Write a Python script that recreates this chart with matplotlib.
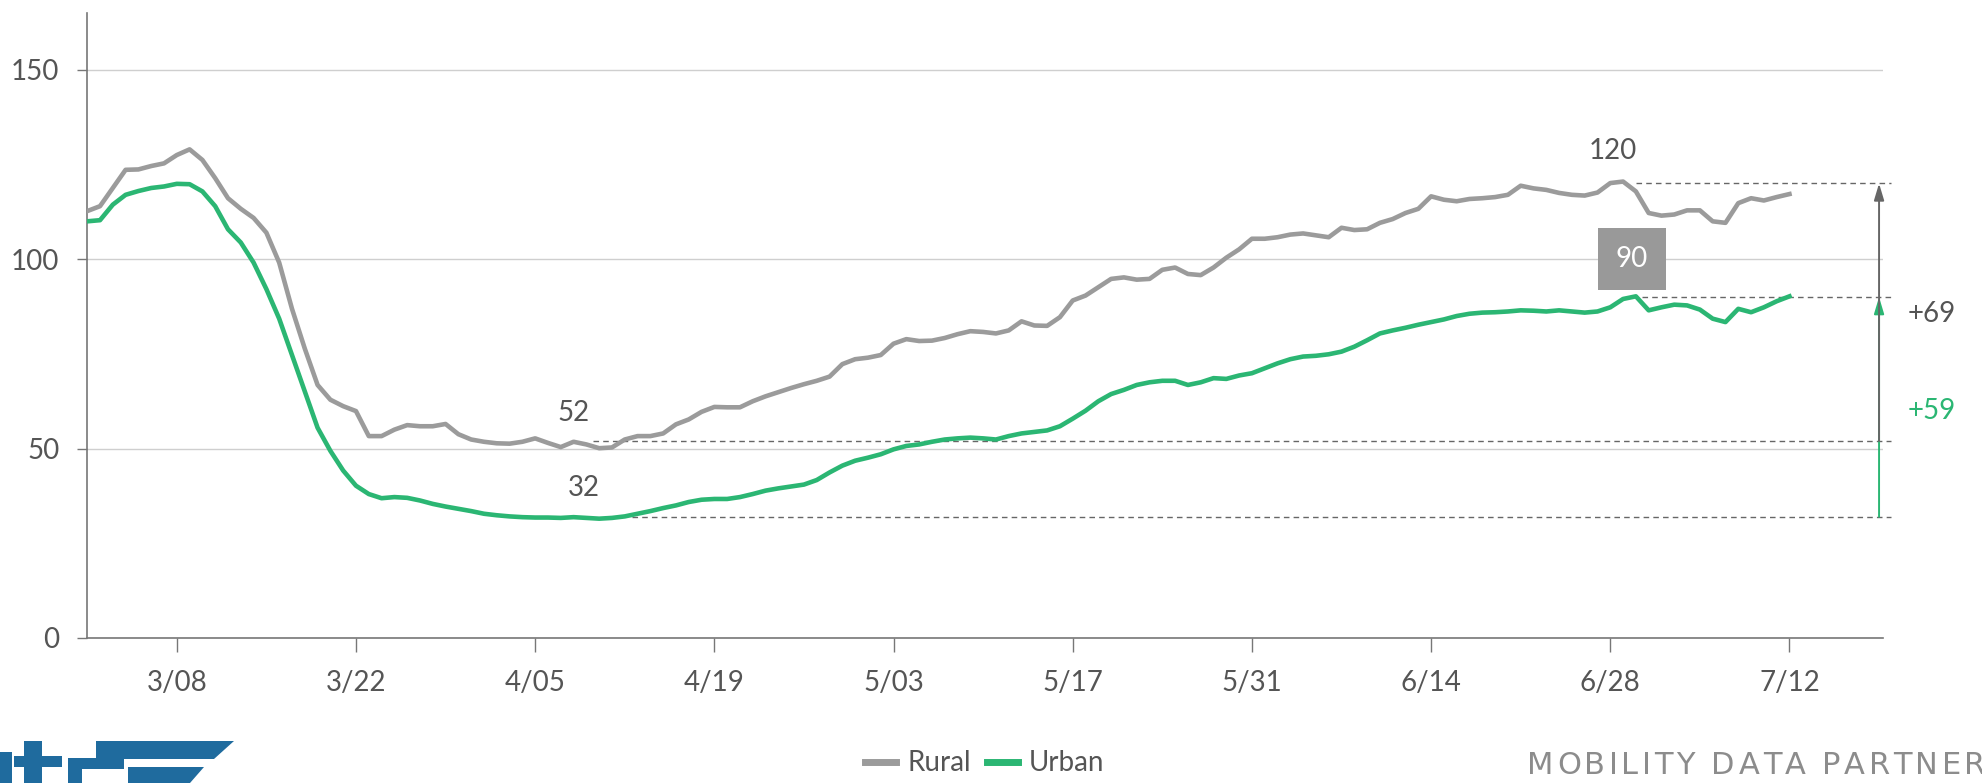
import matplotlib
matplotlib.use("Agg")
import matplotlib.pyplot as plt
import matplotlib.dates as mdates
from matplotlib.lines import Line2D
from matplotlib.patches import Polygon
import pandas as pd

plt.rcParams['font.family'] = ['Lato', 'DejaVu Sans']

# ---------------- data ----------------
start_date = "2020-03-01"
end_date = "2020-07-12"

rural = [112.7, 114.0, 118.8, 123.6, 123.7, 124.6, 125.3, 127.5, 129.0, 126.2,
         121.4, 116.1, 113.3, 110.9, 107.0, 99.1, 86.9, 76.4, 66.8, 62.9,
         61.2, 59.9, 53.3, 53.3, 55.0, 56.2, 55.9, 55.9, 56.5, 53.8,
         52.4, 51.8, 51.4, 51.3, 51.8, 52.7, 51.5, 50.4, 51.8, 51.1,
         50.1, 50.3, 52.4, 53.3, 53.3, 54.0, 56.4, 57.7, 59.7, 61.0,
         60.9, 60.9, 62.5, 63.8, 64.9, 66.0, 67.0, 67.9, 69.0, 72.3,
         73.6, 74.0, 74.7, 77.7, 78.9, 78.4, 78.5, 79.2, 80.2, 81.0,
         80.8, 80.4, 81.2, 83.6, 82.5, 82.4, 84.7, 89.1, 90.4, 92.6,
         94.8, 95.2, 94.6, 94.8, 97.2, 97.8, 96.1, 95.8, 97.8, 100.4,
         102.6, 105.4, 105.4, 105.8, 106.5, 106.8, 106.3, 105.8, 108.3, 107.7,
         107.9, 109.6, 110.6, 112.2, 113.3, 116.6, 115.7, 115.3, 115.9, 116.1,
         116.4, 117.0, 119.4, 118.7, 118.3, 117.5, 117.0, 116.8, 117.6, 120.1,
         120.5, 117.9, 112.2, 111.5, 111.8, 112.9, 112.9, 110.0, 109.6, 114.8,
         116.1, 115.5, 116.4, 117.2]

urban = [110.0, 110.3, 114.4, 117.0, 118.0, 118.8, 119.2, 119.9, 119.8, 117.9,
         114.0, 107.9, 104.4, 99.1, 92.1, 84.3, 74.7, 65.1, 55.5, 49.4,
         44.2, 40.2, 38.0, 36.9, 37.2, 37.0, 36.3, 35.4, 34.7, 34.1,
         33.5, 32.8, 32.4, 32.1, 31.9, 31.8, 31.8, 31.7, 31.9, 31.7,
         31.5, 31.7, 32.1, 32.8, 33.5, 34.3, 35.0, 35.9, 36.5, 36.7,
         36.7, 37.2, 38.0, 38.9, 39.5, 40.0, 40.5, 41.7, 43.7, 45.5,
         46.8, 47.6, 48.5, 49.8, 50.7, 51.1, 51.8, 52.4, 52.7, 52.9,
         52.7, 52.4, 53.3, 54.0, 54.4, 54.8, 55.9, 57.9, 60.0, 62.5,
         64.4, 65.5, 66.8, 67.5, 67.9, 67.9, 66.8, 67.5, 68.6, 68.4,
         69.3, 69.9, 71.2, 72.5, 73.6, 74.3, 74.5, 74.9, 75.6, 76.9,
         78.6, 80.4, 81.2, 81.9, 82.7, 83.4, 84.1, 85.0, 85.6, 85.9,
         86.0, 86.2, 86.5, 86.4, 86.2, 86.5, 86.2, 85.9, 86.2, 87.3,
         89.5, 90.2, 86.5, 87.3, 88.0, 87.8, 86.7, 84.3, 83.4, 86.9,
         86.0, 87.3, 88.9, 90.2]

series_names = ["Rural", "Urban"]
tick_dates = ["2020-03-08", "2020-03-22", "2020-04-05", "2020-04-19", "2020-05-03",
              "2020-05-17", "2020-05-31", "2020-06-14", "2020-06-28", "2020-07-12"]
tick_labels = ["3/08", "3/22", "4/05", "4/19", "5/03", "5/17", "5/31", "6/14", "6/28", "7/12"]
y_ticks = [0, 50, 100, 150]

rural_low, urban_low = 52, 32
rural_high, urban_high = 120, 90
rural_gain, urban_gain = "+69", "+59"
footer = "MOBILITY DATA PARTNERS"

# ---------------- style ----------------
GRAY = "#9b9b9b"
GREEN = "#2bb673"
TEXT = "#555555"
AXC = "#777777"
FS = 20

dates = pd.date_range(start_date, end_date, freq="D")
D = lambda s: mdates.date2num(pd.Timestamp(s))
x0 = mdates.date2num(dates[0])

fig = plt.figure(figsize=(19.82, 7.83), dpi=100)
ax = fig.add_axes([0.044, 0.1852, 0.906, 0.7982])

ax.plot(dates, rural, color=GRAY, lw=3.3, zorder=3)
ax.plot(dates, urban, color=GREEN, lw=3.3, zorder=3)

ax.set_ylim(0, 165)
ax.set_xlim(x0, x0 + 140.3)
ax.set_yticks(y_ticks)
ax.set_xticks([D(t) for t in tick_dates])
ax.set_xticklabels(tick_labels)

ax.grid(axis="y", color="#cfcfcf", lw=1.0)
ax.set_axisbelow(True)
for s in ["top", "right"]:
    ax.spines[s].set_visible(False)
for s in ["left", "bottom"]:
    ax.spines[s].set_color(AXC)
    ax.spines[s].set_linewidth(1.2)
ax.tick_params(axis="y", length=7, width=1, color=AXC, pad=13, labelsize=FS, labelcolor=TEXT)
ax.tick_params(axis="x", length=10, width=1, color=AXC, pad=13, labelsize=FS, labelcolor=TEXT)

# dashed reference lines
x_end = x0 + 140.9
dash = dict(ls=(0, (4, 3)), color="#666666", lw=1.0, clip_on=False)
ax.plot([x0 + 39.5, x_end], [rural_low, rural_low], **dash)
ax.plot([x0 + 42.6, x_end], [urban_low, urban_low], **dash)
ax.plot([x0 + 121, x_end], [rural_high, rural_high], **dash)
ax.plot([x0 + 121.5, x_end], [urban_high, urban_high], **dash)

# arrows
xa = x0 + 140.0
astyle = "-|>,head_width=0.3,head_length=1.0"
ax.annotate("", xy=(xa, urban_high), xytext=(xa, urban_low),
            arrowprops=dict(arrowstyle=astyle, color=GREEN, lw=1.4,
                            shrinkA=0, shrinkB=0, mutation_scale=10), annotation_clip=False)
ax.annotate("", xy=(xa, rural_high), xytext=(xa, rural_low),
            arrowprops=dict(arrowstyle=astyle, color="#666666", lw=1.4,
                            shrinkA=0, shrinkB=0, mutation_scale=10), annotation_clip=False)

# labels
ax.text(x0 + 38, 59.5, str(rural_low), fontsize=FS, color=TEXT, ha="center", va="center")
ax.text(x0 + 38.8, 39.5, str(urban_low), fontsize=FS, color=TEXT, ha="center", va="center")
ax.text(x0 + 119.2, 128.5, str(rural_high), fontsize=FS, color=TEXT, ha="center", va="center")
ax.text(x0 + 120.7, 100, str(urban_high), fontsize=FS, color="white", ha="center", va="center",
        bbox=dict(boxstyle="square,pad=0.65", fc="#999999", ec="none"))
ax.text(x0 + 142.2, 85.5, rural_gain, fontsize=FS, color=TEXT, ha="left", va="center", clip_on=False)
ax.text(x0 + 142.2, 60, urban_gain, fontsize=FS, color=GREEN, ha="left", va="center", clip_on=False)

# legend
handles = [Line2D([0], [0], color=GRAY, lw=5), Line2D([0], [0], color=GREEN, lw=5)]
fig.legend(handles, series_names, loc="center", bbox_to_anchor=(0.497, 0.025), ncol=2,
           frameon=False, fontsize=FS, handlelength=1.1, handletextpad=0.4,
           columnspacing=0.6, labelcolor=TEXT)

# footer source text with slight letter spacing, cut off at the right edge like the reference
W, H = 1982.0, 783.0
renderer = fig.canvas.get_renderer()
foot_kw = dict(fontsize=22, color="#8c8c8c", va="center", ha="left", family=["DejaVu Sans"])
probe = fig.text(0, 0, "|", **foot_kw)
bar_w = probe.get_window_extent(renderer).width
probe.remove()
track = 3.5  # px of extra spacing between letters
fx = 1527.0
fy = 1 - 765 / H
for ch in footer:
    if ch != " ":
        fig.text(fx / W, fy, ch, **foot_kw)
    t = fig.text(0, 0, ch + "|", **foot_kw)
    adv = t.get_window_extent(renderer).width - bar_w
    t.remove()
    fx += adv + track

# logo approximation (bottom-left)
BLUE = "#1f6b9e"
def P(pts):
    return [(x / W, 1 - y / H) for x, y in pts]
logo = [
    P([(0, 752), (12, 752), (12, 783), (0, 783)]),
    P([(24, 741), (42, 741), (42, 783), (24, 783)]),
    P([(14, 756), (62, 756), (62, 767), (14, 767)]),
    P([(68, 758), (124, 758), (124, 769), (82, 769), (82, 783), (68, 783)]),
    P([(96, 741), (234, 741), (214, 759), (96, 759)]),
    P([(128, 767), (204, 767), (190, 783), (128, 783)]),
]
for pts in logo:
    fig.patches.append(Polygon(pts, closed=True, transform=fig.transFigure, fc=BLUE, ec="none"))

fig.savefig("out.png", dpi=100)
